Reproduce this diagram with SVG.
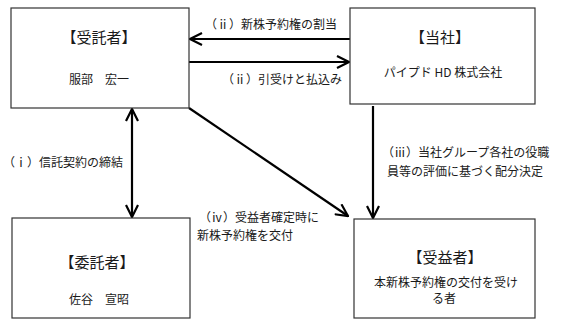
<svg xmlns="http://www.w3.org/2000/svg" width="563" height="326" viewBox="0 0 563 326">
<style>
.box{fill:#fff;stroke:#333;stroke-width:1.2}
.t{font-family:"Noto Sans CJK JP","Noto Sans",sans-serif;fill:#1a1a1a}
.title{font-size:15px;text-anchor:middle}
.sub{font-size:12px;text-anchor:middle}
.lbl{font-size:12px}
.con{stroke:#000;stroke-width:2.2;fill:none}
</style>
<defs>
<marker id="ah" viewBox="0 0 14 14" refX="13" refY="7" markerWidth="14" markerHeight="14" markerUnits="userSpaceOnUse" orient="auto-start-reverse">
<polyline points="1,1 13,7 1,13" fill="none" stroke="#000" stroke-width="2.2"/>
</marker>
</defs>
<rect width="563" height="326" fill="#fff"/>
<g id="connectors">
<line class="con" x1="350" y1="39" x2="190" y2="39" marker-end="url(#ah)"/>
<line class="con" x1="189" y1="62" x2="349" y2="62" marker-end="url(#ah)"/>
<line class="con" x1="132" y1="109" x2="132" y2="217" marker-start="url(#ah)" marker-end="url(#ah)"/>
<line class="con" x1="189" y1="108" x2="348" y2="216" marker-end="url(#ah)"/>
<line class="con" x1="373" y1="106" x2="373" y2="218" marker-end="url(#ah)"/>
<text class="t lbl" x="205" y="29">（ⅱ）新株予約権の割当</text>
<text class="t lbl" x="222" y="84">（ⅱ）引受けと払込み</text>
<text class="t lbl" x="3" y="167">（ⅰ）信託契約の締結</text>
<text class="t lbl" x="382" y="157">（ⅲ）当社グループ各社の役職</text>
<text class="t lbl" x="387" y="176">員等の評価に基づく配分決定</text>
<text class="t lbl" x="199" y="222">（ⅳ）受益者確定時に</text>
<text class="t lbl" x="197" y="240">新株予約権を交付</text>
</g>
<g id="trustee">
<rect class="box" x="11" y="8" width="178" height="100"/>
<text class="t title" x="99" y="43">【受託者】</text>
<text class="t sub" x="99" y="84">服部　宏一</text>
</g>
<g id="company">
<rect class="box" x="350" y="8" width="185" height="96"/>
<text class="t title" x="440" y="43">【当社】</text>
<text class="t sub" x="443" y="77">パイプド HD 株式会社</text>
</g>
<g id="settlor">
<rect class="box" x="12" y="218" width="178" height="100"/>
<text class="t title" x="97" y="268">【委託者】</text>
<text class="t sub" x="99" y="304">佐谷　宣昭</text>
</g>
<g id="beneficiary">
<rect class="box" x="354" y="219" width="181" height="99"/>
<text class="t title" x="445" y="263">【受益者】</text>
<text class="t sub" x="446" y="287">本新株予約権の交付を受け</text>
<text class="t sub" x="444" y="303">る者</text>
</g>
</svg>
